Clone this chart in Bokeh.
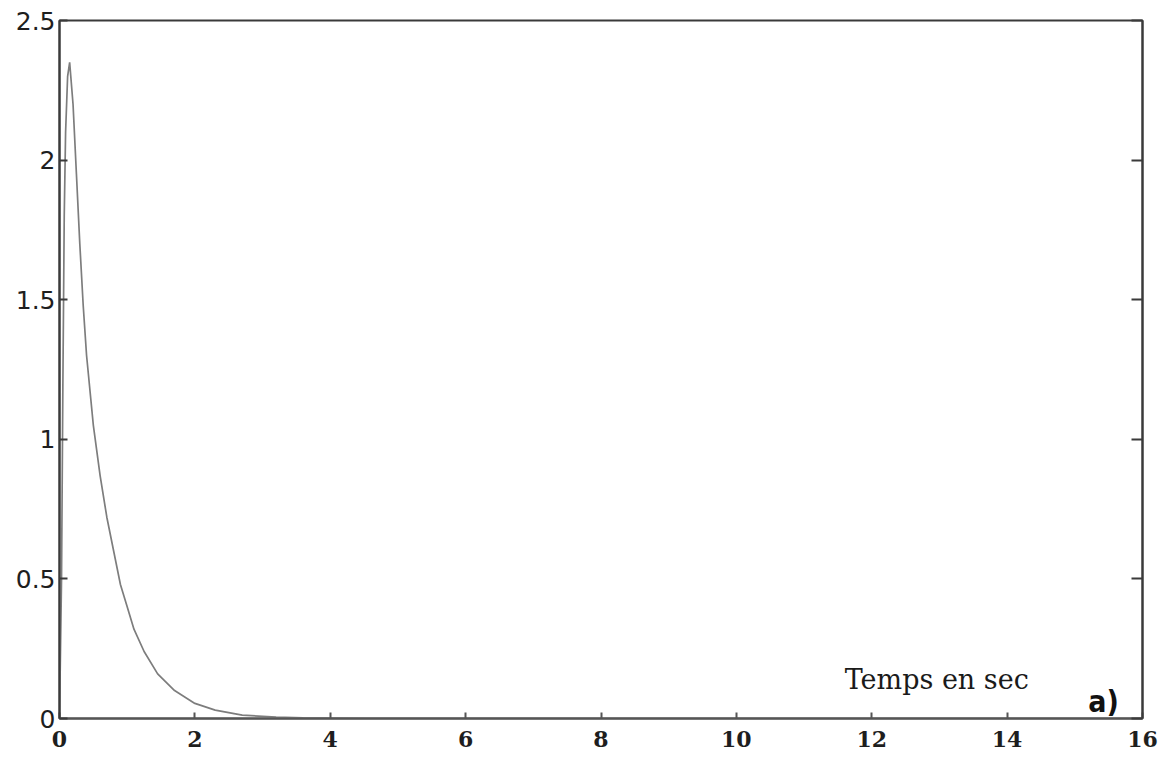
from bokeh.plotting import figure
from bokeh.models import LinearAxis, Range1d, FixedTicker, Label
from bokeh.embed import file_html
from bokeh.resources import INLINE

# Response over time (seconds)
t = [0.0, 0.03, 0.05, 0.07, 0.09, 0.12, 0.15, 0.2, 0.25, 0.3, 0.35, 0.4,
     0.5, 0.6, 0.7, 0.8, 0.9, 1.0, 1.1, 1.25, 1.45, 1.7, 2.0, 2.3, 2.7,
     3.2, 3.6, 4.5, 6.0, 8.0, 10.0, 12.0, 14.0, 16.0]
y = [0.0, 0.5, 1.2, 1.8, 2.1, 2.3, 2.35, 2.2, 1.95, 1.7, 1.48, 1.3,
     1.05, 0.87, 0.72, 0.6, 0.48, 0.4, 0.32, 0.24, 0.16, 0.1, 0.054, 0.03, 0.012,
     0.005, 0.002, 0.0, 0.0, 0.0, 0.0, 0.0, 0.0, 0.0]

x_ticks = [0, 2, 4, 6, 8, 10, 12, 14, 16]
x_tick_labels = ["0", "2", "4", "6", "8", "10", "12", "14", "16"]
y_ticks = [0, 0.5, 1, 1.5, 2, 2.5]
y_tick_labels = ["0", "0.5", "1", "1.5", "2", "2.5"]

axis_color = "#3a3a3a"

p = figure(width=1168, height=759,
           x_range=Range1d(0, 16), y_range=Range1d(0, 2.5),
           output_backend="svg", toolbar_location=None,
           min_border_left=59, min_border_right=26,
           min_border_top=20, min_border_bottom=41,
           background_fill_color="white", border_fill_color="white")
p.grid.visible = False
p.outline_line_color = axis_color
p.outline_line_width = 2

# bottom axis
xa = p.xaxis[0]
xa.ticker = FixedTicker(ticks=x_ticks)
xa.major_label_overrides = {v: s for v, s in zip(x_ticks, x_tick_labels)}
xa.major_tick_in = 6
xa.major_tick_out = 0
xa.minor_tick_in = 0
xa.minor_tick_out = 0
xa.axis_line_color = "#555555"
xa.axis_line_width = 2
xa.major_tick_line_color = "#555555"
xa.major_tick_line_width = 2
xa.major_label_standoff = 12
xa.major_label_text_font = "DejaVu Serif"
xa.major_label_text_font_style = "bold"
xa.major_label_text_font_size = "22px"
xa.major_label_text_color = "#1e1e1e"

# left axis
ya = p.yaxis[0]
ya.ticker = FixedTicker(ticks=y_ticks)
ya.major_label_overrides = {v: s for v, s in zip(y_ticks, y_tick_labels)}
ya.major_tick_in = 8
ya.major_tick_out = 0
ya.minor_tick_in = 0
ya.minor_tick_out = 0
ya.axis_line_color = axis_color
ya.axis_line_width = 2
ya.major_tick_line_color = axis_color
ya.major_tick_line_width = 2
ya.major_label_standoff = 4
ya.major_label_text_font = "DejaVu Sans"
ya.major_label_text_font_size = "25px"
ya.major_label_text_color = "#1e1e1e"

# right axis: ticks only
ra = LinearAxis(ticker=FixedTicker(ticks=y_ticks))
ra.major_tick_in = 11
ra.major_tick_out = 0
ra.minor_tick_in = 0
ra.minor_tick_out = 0
ra.axis_line_color = axis_color
ra.axis_line_width = 2
ra.major_tick_line_color = axis_color
ra.major_tick_line_width = 2
ra.major_label_text_font_size = "0px"
ra.major_label_text_alpha = 0
p.add_layout(ra, "right")

# the response curve
p.line(t, y, line_color="#7d7d7d", line_width=1.7)

p.add_layout(Label(x=11.6, y=0.14, text="Temps en sec",
                   text_font="DejaVu Serif", text_font_size="27px",
                   text_color="#1a1a1a", text_baseline="alphabetic"))
p.add_layout(Label(x=15.65, y=0.0, text="a)",
                   text_font="DejaVu Sans Condensed", text_font_style="bold",
                   text_font_size="30px", text_color="#111111",
                   text_align="right", text_baseline="bottom"))

open("out.html", "w").write(file_html(p, INLINE))
